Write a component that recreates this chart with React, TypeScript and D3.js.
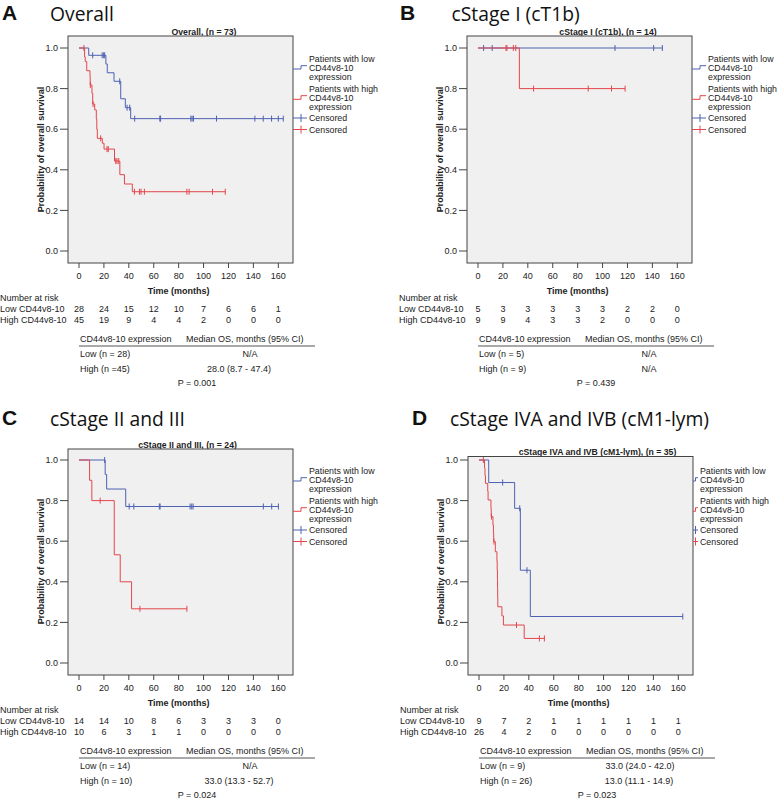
import * as d3 from 'd3';

type Step = [number, number];

const riskTimes = [0, 20, 40, 60, 80, 100, 120, 140, 160];
const yTicks = [0, 0.2, 0.4, 0.6, 0.8, 1.0];

// A - Overall
const overallLowSteps: Step[] = [[0, 1], [7.8, 0.964], [21.6, 0.921], [22.7, 0.878], [28.1, 0.836], [33.5, 0.75], [37.2, 0.706], [41.5, 0.652]];
const overallLowCensored = [11, 18.6, 19.8, 20.6, 32.7, 38.6, 40.7, 44.7, 64.9, 65.5, 89.8, 90.8, 91.9, 110.4, 141.2, 147.9, 154.6, 160, 164];
const overallHighSteps: Step[] = [[0, 1], [4.5, 0.956], [5.0, 0.933], [6.2, 0.888], [8.8, 0.859], [9.0, 0.818], [10.4, 0.777], [11.0, 0.724], [12.6, 0.695], [13.9, 0.65], [14.3, 0.6], [14.7, 0.555], [18.7, 0.531], [20.1, 0.502], [28.5, 0.443], [32.8, 0.376], [36.5, 0.33], [42.8, 0.292]];
const overallHighCensored = [4, 9.1, 11.3, 17.4, 22.5, 23.5, 29.5, 30.5, 31.9, 44.5, 48.5, 49.8, 52.5, 86.6, 88.4, 107.2, 117.4];
const overallRiskLow = [28, 24, 15, 12, 10, 7, 6, 6, 1];
const overallRiskHigh = [45, 19, 9, 4, 4, 2, 0, 0, 0];
const overallMedian = ['Low (n = 28)', 'N/A', 'High (n =45)', '28.0 (8.7 - 47.4)', 'P = 0.001'];

// B - cStage I
const stage1LowSteps: Step[] = [[0, 1]];
const stage1LowCensored = [4.5, 11.4, 110, 141, 148];
const stage1HighSteps: Step[] = [[0, 1], [33.2, 0.8]];
const stage1HighCensored = [22.5, 23.2, 28.4, 30.3, 44.6, 88.5, 107.2, 118.1];
const stage1RiskLow = [5, 3, 3, 3, 3, 3, 2, 2, 0];
const stage1RiskHigh = [9, 9, 4, 3, 3, 2, 0, 0, 0];
const stage1Median = ['Low (n = 5)', 'N/A', 'High (n = 9)', 'N/A', 'P = 0.439'];

// C - cStage II and III
const stage23LowSteps: Step[] = [[0, 1], [21.0, 0.929], [22.2, 0.857], [37.5, 0.771]];
const stage23LowCensored = [20.6, 40.3, 44, 64.5, 65.1, 89.2, 90.5, 91.6, 148, 154.7, 160.1];
const stage23HighSteps: Step[] = [[0, 1], [8.5, 0.9], [10.3, 0.8], [28.3, 0.533], [33.1, 0.4], [42.2, 0.267]];
const stage23HighCensored = [17, 48.9, 86.6];
const stage23RiskLow = [14, 14, 10, 8, 6, 3, 3, 3, 0];
const stage23RiskHigh = [10, 6, 3, 1, 1, 0, 0, 0, 0];
const stage23Median = ['Low (n = 14)', 'N/A', 'High (n = 10)', '33.0 (13.3 - 52.7)', 'P = 0.024'];

// D - cStage IVA and IVB
const stage4LowSteps: Step[] = [[0, 1], [7.8, 0.889], [28.6, 0.762], [33.2, 0.457], [41.2, 0.229]];
const stage4LowCensored = [19, 32.7, 38.5, 163.6];
const stage4HighSteps: Step[] = [[0, 1], [4.4, 0.962], [4.8, 0.923], [5.2, 0.885], [7.0, 0.846], [7.3, 0.803], [9.6, 0.762], [9.8, 0.721], [11.2, 0.68], [11.6, 0.64], [11.8, 0.598], [13.1, 0.548], [14.4, 0.503], [14.6, 0.458], [14.8, 0.412], [14.9, 0.367], [15.0, 0.322], [15.1, 0.277], [18.4, 0.232], [19.6, 0.187], [36.3, 0.121]];
const stage4HighCensored = [3.5, 10.0, 12.0, 30.1, 48.5, 52.5];
const stage4RiskLow = [9, 7, 2, 1, 1, 1, 1, 1, 1];
const stage4RiskHigh = [26, 4, 2, 0, 0, 0, 0, 0, 0];
const stage4Median = ['Low (n = 9)', '33.0 (24.0 - 42.0)', 'High (n = 26)', '13.0 (11.1 - 14.9)', 'P = 0.023'];

const BLUE = '#4d62b3';
const RED = '#e3464c';
const FONT = '"Liberation Sans", Arial, sans-serif';

function survAt(steps: Step[], t: number) {
  let s = steps[0][1];
  for (const [ti, si] of steps) if (ti <= t) s = si;
  return s;
}

interface PanelProps {
  dx: number;
  dy: number;
  letter: string;
  letterX: number;
  heading: string;
  headingX: number;
  headingY: number;
  title: string;
  titleX: number;
  titleY: number;
  boxTop: number;
  narrowLegend?: boolean;
  lowSteps: Step[];
  lowCensored: number[];
  highSteps: Step[];
  highCensored: number[];
  riskLow: number[];
  riskHigh: number[];
  median: string[];
}

function Curve({ steps, censored, color, x, y }: { steps: Step[]; censored: number[]; color: string; x: d3.ScaleLinear<number, number>; y: d3.ScaleLinear<number, number> }) {
  const end = Math.max(steps[steps.length - 1][0], ...censored);
  const pts: Step[] = [...steps, [end, steps[steps.length - 1][1]]];
  const line = d3.line<Step>().x(d => x(d[0])).y(d => y(d[1])).curve(d3.curveStepAfter);
  return (
    <g>
      <path d={line(pts) || ''} fill="none" stroke={color} strokeWidth={1} />
      {censored.map((t, i) => {
        const cx = x(t);
        const cy = y(survAt(steps, t));
        return <line key={i} x1={cx} x2={cx} y1={cy - 3} y2={cy + 3} stroke={color} strokeWidth={1} />;
      })}
    </g>
  );
}

function Panel(p: PanelProps) {
  const x = d3.scaleLinear().domain([0, 160]).range([79, 278.3]);
  const y = d3.scaleLinear().domain([0, 1]).range([251, 48]);
  const left = 68, right = 293, bottom = 263;
  const legX = p.narrowLegend ? 300 : 309;
  const symEnd = p.narrowLegend ? 298 : 307;
  const symMid = p.narrowLegend ? 295.5 : 301;
  const txt = { fontFamily: FONT, fontSize: 9, fill: '#222' };
  const leg = { fontFamily: FONT, fontSize: 8.8, fill: '#222' };
  return (
    <g transform={`translate(${p.dx},${p.dy})`}>
      <text x={p.letterX} y={p.headingY - 1} style={{ fontFamily: FONT, fontWeight: 'bold', fontSize: 21 }} fill="#111">{p.letter}</text>
      <text x={p.headingX} y={p.headingY} style={{ fontFamily: '"Open Sans", sans-serif', fontSize: 19.3 }} fill="#111">{p.heading}</text>
      <text x={p.titleX} y={p.titleY} dy="0.35em" textAnchor="middle" style={{ ...txt, fontSize: 8.7, fontWeight: 'bold' }}>{p.title}</text>

      <rect x={left} y={p.boxTop} width={right - left} height={bottom - p.boxTop} fill="#f0f0f0" stroke="#444" strokeWidth={1} />

      {yTicks.map(t => (
        <g key={t}>
          <line x1={60} x2={left} y1={y(t)} y2={y(t)} stroke="#444" />
          <text x={58} y={y(t)} dy="0.35em" textAnchor="end" style={txt}>{t.toFixed(1)}</text>
        </g>
      ))}
      {riskTimes.map(t => (
        <g key={t}>
          <line x1={x(t)} x2={x(t)} y1={bottom} y2={bottom + 5} stroke="#444" />
          <text x={x(t)} y={276} dy="0.35em" textAnchor="middle" style={txt}>{t}</text>
        </g>
      ))}
      <text x={(x(0) + x(160)) / 2} y={291} dy="0.35em" textAnchor="middle" style={{ ...txt, fontWeight: 'bold' }}>Time (months)</text>
      <text transform={`translate(41,${(y(0) + y(1)) / 2}) rotate(-90)`} dy="0.35em" textAnchor="middle" style={{ ...txt, fontWeight: 'bold' }}>Probability of overall survival</text>

      <Curve steps={p.lowSteps} censored={p.lowCensored} color={BLUE} x={x} y={y} />
      <Curve steps={p.highSteps} censored={p.highCensored} color={RED} x={x} y={y} />

      {/* legend */}
      <path d={`M${right},69 H${symMid} V65.7 H${symEnd}`} fill="none" stroke={BLUE} />
      <path d={`M${right},99.3 H${symMid} V95.7 H${symEnd}`} fill="none" stroke={RED} />
      <line x1={right} x2={symEnd} y1={118} y2={118} stroke={BLUE} />
      <line x1={symMid} x2={symMid} y1={114} y2={122} stroke={BLUE} />
      <line x1={right} x2={symEnd} y1={129.5} y2={129.5} stroke={RED} />
      <line x1={symMid} x2={symMid} y1={125.5} y2={133.5} stroke={RED} />
      {['Patients with low', 'CD44v8-10', 'expression'].map((s, i) => (
        <text key={s} x={legX} y={59 + i * 9} dy="0.35em" style={leg}>{s}</text>
      ))}
      {['Patients with high', 'CD44v8-10', 'expression'].map((s, i) => (
        <text key={s} x={legX} y={89 + i * 9} dy="0.35em" style={leg}>{s}</text>
      ))}
      <text x={legX} y={118} dy="0.35em" style={leg}>Censored</text>
      <text x={legX} y={129.5} dy="0.35em" style={leg}>Censored</text>

      {/* number at risk */}
      <text x={0} y={298} dy="0.35em" style={txt}>Number at risk</text>
      <text x={0} y={309} dy="0.35em" style={txt}>Low CD44v8-10</text>
      <text x={0} y={320} dy="0.35em" style={txt}>High CD44v8-10</text>
      {riskTimes.map((t, i) => (
        <g key={t}>
          <text x={x(t)} y={309} dy="0.35em" textAnchor="middle" style={txt}>{p.riskLow[i]}</text>
          <text x={x(t)} y={320} dy="0.35em" textAnchor="middle" style={txt}>{p.riskHigh[i]}</text>
        </g>
      ))}

      {/* median table */}
      <text x={80} y={339} dy="0.35em" style={txt}>CD44v8-10 expression</text>
      <text x={186} y={339} dy="0.35em" style={txt}>Median OS, months (95% CI)</text>
      <line x1={79} x2={315} y1={346} y2={346} stroke="#555" strokeWidth={1.2} />
      <text x={80} y={354} dy="0.35em" style={txt}>{p.median[0]}</text>
      <text x={p.median[1] === 'N/A' ? 250 : 240} y={354} dy="0.35em" textAnchor="middle" style={txt}>{p.median[1]}</text>
      <text x={80} y={369} dy="0.35em" style={txt}>{p.median[2]}</text>
      <text x={p.median[3] === 'N/A' ? 250 : 239} y={369} dy="0.35em" textAnchor="middle" style={txt}>{p.median[3]}</text>
      <text x={197} y={383} dy="0.35em" textAnchor="middle" style={txt}>{p.median[4]}</text>
    </g>
  );
}

export default function App() {
  return (
    <svg width={778} height={799} style={{ position: 'absolute', left: 0, top: 0, background: '#fff' }}>
      <Panel dx={0} dy={0} letter="A" letterX={2} heading="Overall" headingX={50} headingY={20.8}
        title="Overall, (n = 73)" titleX={204} titleY={31.7} boxTop={36}
        lowSteps={overallLowSteps} lowCensored={overallLowCensored} highSteps={overallHighSteps} highCensored={overallHighCensored}
        riskLow={overallRiskLow} riskHigh={overallRiskHigh} median={overallMedian} />
      <Panel dx={399} dy={0} letter="B" letterX={1} heading="cStage I (cT1b)" headingX={52.5} headingY={20.8}
        title="cStage I (cT1b), (n = 14)" titleX={209} titleY={31.7} boxTop={36}
        lowSteps={stage1LowSteps} lowCensored={stage1LowCensored} highSteps={stage1HighSteps} highCensored={stage1HighCensored}
        riskLow={stage1RiskLow} riskHigh={stage1RiskHigh} median={stage1Median} />
      <Panel dx={0} dy={412} letter="C" letterX={2} heading="cStage II and III" headingX={50} headingY={13.5}
        title="cStage II and III, (n = 24)" titleX={187.5} titleY={32.7} boxTop={37}
        lowSteps={stage23LowSteps} lowCensored={stage23LowCensored} highSteps={stage23HighSteps} highCensored={stage23HighCensored}
        riskLow={stage23RiskLow} riskHigh={stage23RiskHigh} median={stage23Median} />
      <Panel dx={400} dy={412} letter="D" letterX={12} heading="cStage IVA and IVB (cM1-lym)" headingX={50} headingY={13.5}
        title="cStage IVA and IVB (cM1-lym), (n = 35)" titleX={197.5} titleY={39.7} boxTop={44.5} narrowLegend
        lowSteps={stage4LowSteps} lowCensored={stage4LowCensored} highSteps={stage4HighSteps} highCensored={stage4HighCensored}
        riskLow={stage4RiskLow} riskHigh={stage4RiskHigh} median={stage4Median} />
    </svg>
  );
}
